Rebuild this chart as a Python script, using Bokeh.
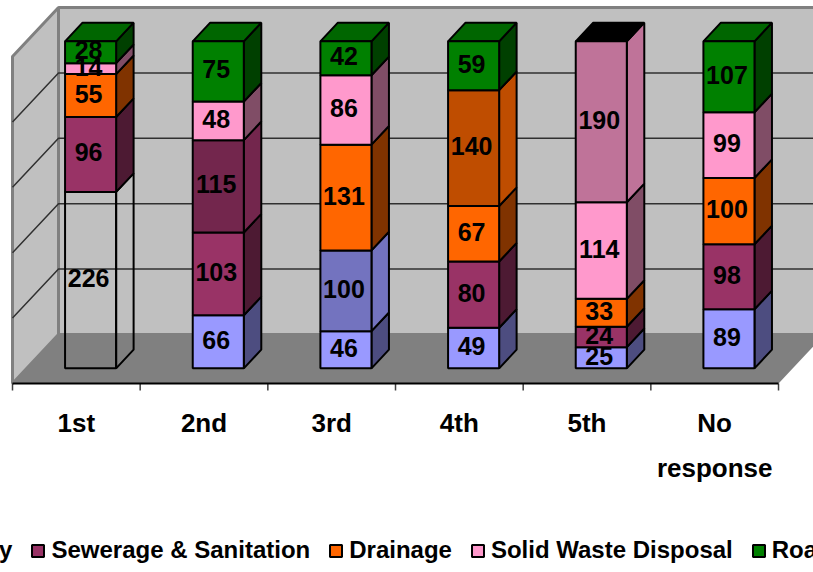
from bokeh.plotting import figure
from bokeh.models import ColumnDataSource, Range1d, LinearAxis, FixedTicker, Legend, LegendItem
from bokeh.core.properties import value
from bokeh.embed import file_html
from bokeh.resources import INLINE

categories = ["1st", "2nd", "3rd", "4th", "5th", "No\nresponse"]
series_names = ["Water Supply", "Sewerage & Sanitation", "Drainage", "Solid Waste Disposal", "Roads"]
water_supply = [226, 66, 46, 49, 25, 89]
sewerage = [96, 103, 100, 80, 24, 98]
drainage = [55, 115, 131, 67, 33, 100]
solid_waste = [14, 48, 86, 140, 114, 99]
roads = [28, 75, 42, 59, 190, 107]
series = [water_supply, sewerage, drainage, solid_waste, roads]

base_colors = ["#9999FF", "#993366", "#FF6600", "#FF99CC", "#008000"]
side_colors = ["#4D4D80", "#4D1A33", "#803300", "#804D66", "#004000"]
top_colors = ["#7373BF", "#732649", "#BF4D00", "#BF7399", "#006600"]

# individually recoloured points: (series, category) -> (front, side, top)
overrides = {
    (0, 0): (None, None, None),
    (2, 1): ("#73264D", "#73264D", "#73264D"),
    (1, 2): ("#7373BF", "#7373BF", "#7373BF"),
    (3, 3): ("#BF4D00", "#BF4D00", "#BF4D00"),
    (4, 4): ("#BF7399", "#BF7399", "#000000"),
}

W, H = 813, 572
CAT_PX = 127.67      # px per category
PCT_PX = 3.27        # px per percent
LEFT_PX, FLOOR_PX = 12, 383
DX = 46 / CAT_PX     # full depth of the box, in data units
DY = 49 / PCT_PX
D0, D1 = 0.31, 0.69  # depth of the bars
GAP = 0.3            # side gap in a category
TICKS = [0, 20, 40, 60, 80, 100]

x_range = Range1d(-LEFT_PX / CAT_PX, (W - LEFT_PX) / CAT_PX)
y_range = Range1d(-(H - FLOOR_PX) / PCT_PX, FLOOR_PX / PCT_PX)

p = figure(width=W, height=H, x_range=x_range, y_range=y_range, output_backend="svg",
           toolbar_location=None, min_border=0, x_axis_type=None, y_axis_type=None,
           outline_line_color=None, background_fill_color="white", border_fill_color="white")
p.grid.visible = False

n = len(categories)
# walls and floor
p.patch([0, DX, DX, 0], [0, DY, 100 + DY, 100], fill_color="#C0C0C0", line_color="#808080", line_width=3)
p.patch([DX, n + DX + 1, n + DX + 1, DX], [DY, DY, 100 + DY, 100 + DY], fill_color="#C0C0C0",
        line_color="#808080", line_width=3)
p.patch([0, n, n + DX, DX], [0, 0, DY, DY], fill_color="#808080", line_color=None)

# gridlines
for t in TICKS[1:-1]:
    p.line([0, DX, n + DX + 1], [t, t + DY, t + DY], line_color="#303030", line_width=1.5)

# bars
front = dict(xs=[], ys=[], color=[], alpha=[], s=[])
side = dict(xs=[], ys=[], color=[], alpha=[])
top = dict(xs=[], ys=[], color=[], alpha=[])
labels = dict(x=[], y=[], t=[])
for c in range(n):
    total = sum(s[c] for s in series)
    x0, x1 = c + GAP, c + 1 - GAP
    acc = 0
    for k, s in enumerate(series):
        y0 = acc / total * 100
        acc += s[c]
        y1 = acc / total * 100
        f, sd, tp = overrides.get((k, c), (base_colors[k], side_colors[k], top_colors[k]))
        fx, fy = D0 * DX, D0 * DY
        bx, by = D1 * DX, D1 * DY
        front["xs"].append([x0 + fx, x1 + fx, x1 + fx, x0 + fx])
        front["ys"].append([y0 + fy, y0 + fy, y1 + fy, y1 + fy])
        front["color"].append(f or "#FFFFFF")
        front["alpha"].append(1 if f else 0)
        front["s"].append(k)
        side["xs"].append([x1 + fx, x1 + bx, x1 + bx, x1 + fx])
        side["ys"].append([y0 + fy, y0 + by, y1 + by, y1 + fy])
        side["color"].append(sd or "#FFFFFF")
        side["alpha"].append(1 if sd else 0)
        if k == len(series) - 1:
            top["xs"].append([x0 + fx, x1 + fx, x1 + bx, x0 + bx])
            top["ys"].append([y1 + fy, y1 + fy, y1 + by, y1 + by])
            top["color"].append(tp)
            top["alpha"].append(1)
        labels["x"].append((x0 + x1) / 2 + fx)
        labels["y"].append((y0 + y1) / 2 + fy)
        labels["t"].append(str(s[c]))

BAR_LINE = dict(line_color="black", line_width=2)
p.patches("xs", "ys", source=ColumnDataSource(side), fill_color="color", fill_alpha="alpha", **BAR_LINE)
p.patches("xs", "ys", source=ColumnDataSource(top), fill_color="color", fill_alpha="alpha", **BAR_LINE)
front_renderers = []
for k in range(len(series)):
    idx = [i for i, v in enumerate(front["s"]) if v == k]
    src = ColumnDataSource({key: [front[key][i] for i in idx] for key in front})
    front_renderers.append(p.patches("xs", "ys", source=src, fill_color="color", fill_alpha="alpha", **BAR_LINE))

FONT = "Liberation Sans"
p.text("x", "y", text="t", source=ColumnDataSource(labels), text_font=value(FONT), text_font_style="bold",
       text_font_size="25px", text_align="center", text_baseline="middle", text_color="black",
       x_offset=-2, y_offset=-2)

# category axis
ax = LinearAxis(fixed_location=0, ticker=FixedTicker(ticks=[i + 0.5 for i in range(n)]))
ax.major_label_overrides = {i + 0.5: categories[i] for i in range(n)}
ax.bounds = (0, n)
ax.axis_line_color = "black"
ax.axis_line_width = 2
ax.major_tick_line_color = None
ax.minor_tick_line_color = None
ax.major_label_standoff = 18
ax.major_label_text_font = FONT
ax.major_label_text_font_style = "bold"
ax.major_label_text_font_size = "26px"
ax.major_label_text_color = "black"
ax.major_label_text_line_height = 1.5
p.add_layout(ax, "below")
for i in range(n + 1):
    p.line([i, i], [0, -7 / PCT_PX], line_color="#404040", line_width=1.5)

# legend
items = [LegendItem(label=series_names[k], renderers=[front_renderers[k]], index=1 if k == 0 else 0)
         for k in range(len(series))]
legend = Legend(items=items, orientation="horizontal", location=(-161, 8), background_fill_alpha=0,
                border_line_color=None, glyph_width=15, glyph_height=15, label_standoff=6, spacing=18,
                padding=0, margin=0, label_text_font=FONT, label_text_font_style="bold",
                label_text_font_size="24px", label_text_color="black")
p.add_layout(legend, "center")

open("out.html", "w").write(file_html(p, INLINE))
